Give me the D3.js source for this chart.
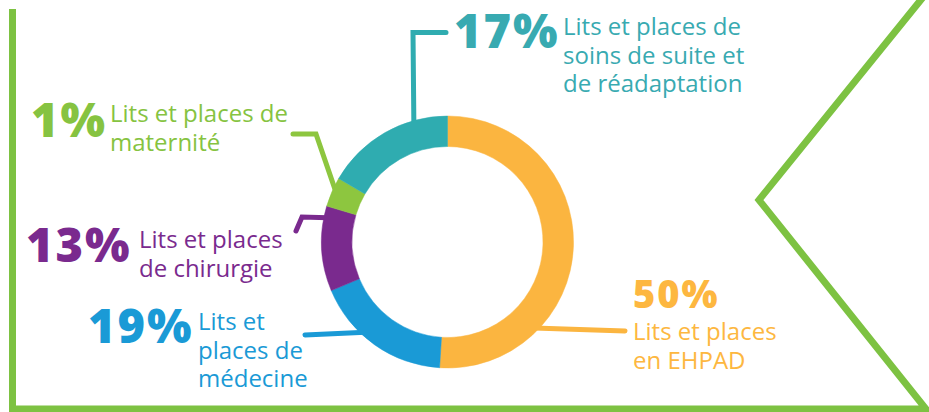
<!DOCTYPE html>
<html>
<head>
<meta charset="utf-8">
<script src="https://cdn.jsdelivr.net/npm/d3@7"></script>
<style>
  body { margin: 0; background: #fff; }
  svg { display: block; }
</style>
</head>
<body>
<svg width="929" height="412"></svg>
<script>
// data
var categories = ["EHPAD", "médecine", "chirurgie", "maternité", "soins de suite et de réadaptation"];
var percents = [50, 19, 13, 1, 17];
// share of the ring each slice takes in the picture (the designer did not draw it to scale)
var ringShare = [51, 17.7, 10.9, 3.8, 16.6];
var labelLines = [
    ["Lits et places", "en EHPAD"],
    ["Lits et", "places de", "médecine"],
    ["Lits et places", "de chirurgie"],
    ["Lits et places de", "maternité"],
    ["Lits et places de", "soins de suite et", "de réadaptation"]
];
var colors = ["#FBB540", "#1A9AD6", "#7A2A8E", "#8DC63F", "#2FACB0"];
var textColors = ["#FDB740", "#1A9AD6", "#7A2A8E", "#86C341", "#38AAB1"];

// layout
var cx = 447.5, cy = 242, outerR = 126, innerR = 95.5;
var pctPos = [[633, 308, 38], [88, 343, 47], [26, 262, 47], [31, 137, 47], [454, 48, 47]];
var labelPos = [[633, 340], [198, 330], [139, 248], [110, 122], [563, 35]];
var lineGap = 28.5;
// leader lines: knee points, then the angle (deg, clockwise from top) where they touch the ring
var leaders = [
    { pts: [[625, 331]], angle: 134.8 },
    { pts: [[305, 335]], angle: 222.3 },
    { pts: [[296, 231], [302, 217]], angle: 281.5 },
    { pts: [[293, 134], [316, 134]], angle: 294 },
    { pts: [[446, 32.5], [413, 32.5]], angle: 344 }
];

var svg = d3.select("svg");

// green frame with the chevron on the right
svg.append("path")
    .attr("d", d3.line()([[12.5, 9], [12.5, 409], [926, 409], [759, 200], [924, -4]]))
    .style("fill", "none")
    .style("stroke", "#7DC242")
    .style("stroke-width", 7)
    .style("stroke-linejoin", "miter");

function ringPoint(deg, r) {
    var a = deg * Math.PI / 180;
    return [cx + r * Math.sin(a), cy - r * Math.cos(a)];
}

var g = svg.append("g");

leaders.forEach(function(l, i) {
    var pts = l.pts.concat([ringPoint(l.angle, outerR - 4)]);
    g.append("path")
        .attr("d", d3.line()(pts))
        .style("fill", "none")
        .style("stroke", colors[i])
        .style("stroke-width", 5)
        .style("stroke-linecap", "round")
        .style("stroke-linejoin", "miter");
});

var pie = d3.pie().sort(null).value(function(d) { return d; });
var arc = d3.arc().innerRadius(innerR).outerRadius(outerR);

g.append("g")
    .attr("transform", "translate(" + cx + "," + cy + ")")
    .selectAll("path")
    .data(pie(ringShare))
    .enter()
    .append("path")
    .attr("d", arc)
    .style("fill", function(d, i) { return colors[i]; })
    .style("stroke", function(d, i) { return colors[i]; })
    .style("stroke-width", 0.5);

// big percentages
svg.append("g")
    .selectAll("text")
    .data(percents)
    .enter()
    .append("text")
    .attr("x", function(d, i) { return pctPos[i][0]; })
    .attr("y", function(d, i) { return pctPos[i][1]; })
    .attr("font-family", "'Open Sans', sans-serif")
    .attr("font-weight", 800)
    .attr("font-size", function(d, i) { return pctPos[i][2] + "px"; })
    .attr("letter-spacing", "2px")
    .attr("fill", function(d, i) { return textColors[i]; })
    .text(function(d) { return d + "%"; });

// labels, one text per line
labelLines.forEach(function(lines, i) {
    svg.append("g")
        .selectAll("text")
        .data(lines)
        .enter()
        .append("text")
        .attr("x", labelPos[i][0])
        .attr("y", function(d, j) { return labelPos[i][1] + j * lineGap; })
        .attr("font-family", "'Open Sans', sans-serif")
        .attr("font-size", "24px")
        .attr("fill", textColors[i])
        .text(function(d) { return d; });
});
</script>
</body>
</html>
